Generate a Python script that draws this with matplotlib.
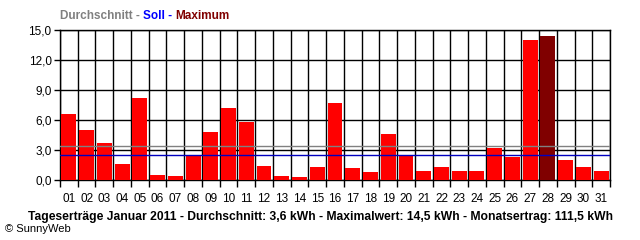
import matplotlib
matplotlib.use('Agg')
import matplotlib.pyplot as plt
import numpy as np

plt.rcParams.update({
    'font.family': ['Liberation Sans', 'DejaVu Sans'],
    'font.size': 8,
    'axes.linewidth': 1.0,
})

days = ['%02d' % d for d in range(1, 32)]
ertrag = [6.6, 5.0, 3.7, 1.65, 8.2, 0.55, 0.45, 2.5, 4.85, 7.2, 5.85, 1.45, 0.45, 0.35,
          1.35, 7.7, 1.25, 0.85, 4.65, 2.55, 0.95, 1.35, 0.95, 0.95, 3.25, 2.35, 14.0,
          14.4, 2.05, 1.35, 0.95]
durchschnitt = 3.45
soll = 2.5
y_ticks = [0, 3, 6, 9, 12, 15]
y_labels = ['0,0', '3,0', '6,0', '9,0', '12,0', '15,0']

fig = plt.figure(figsize=(6.4, 2.4), dpi=100)
ax = fig.add_axes([60 / 640, 60 / 240, 550 / 640, 150 / 240])

imax = int(np.argmax(ertrag))
colors = ['#ff0000'] * len(ertrag)
colors[imax] = '#800000'
x = np.arange(len(ertrag))
ax.bar(x, ertrag, width=0.84, color=colors, zorder=3)

ax.set_xlim(-0.5, len(ertrag) - 0.5)
ax.set_ylim(0, 15)

# grid: vertical at day boundaries, horizontal at y ticks
for b in np.arange(-0.5, len(ertrag), 1):
    ax.axvline(b, color='black', lw=1.0, zorder=1)
for yt in y_ticks:
    ax.axhline(yt, color='black', lw=1.0, zorder=1)

ax.axhline(durchschnitt, color='#808080', lw=1.0, zorder=4)
ax.axhline(soll, color='#0000c0', lw=1.0, zorder=4)

ax.set_yticks(y_ticks)
ax.set_yticklabels(y_labels)
ax.tick_params(axis='y', length=4, width=1, pad=2, labelsize=8.5)

ax.set_xticks(np.arange(-0.5, len(ertrag), 1))
ax.set_xticklabels([])
ax.tick_params(axis='x', which='major', length=5, width=1, direction='out')
ax.set_xticks(x, minor=True)
ax.set_xticklabels(days, minor=True)
ax.tick_params(axis='x', which='minor', length=0, pad=9, labelsize=8.5)

for s in ax.spines.values():
    s.set_color('black')

# legend-like header in three colours
fig.canvas.draw()
r = fig.canvas.get_renderer()
xpos = 60
parts = [('Durchschnitt - ', '#808080'), ('Soll - ', '#0000ff'), ('Maximum', '#800000')]
for txt, col in parts:
    t = fig.text(xpos / 640, 1 - 16 / 240, txt, color=col, fontsize=8.5, fontweight='bold',
                 va='center', ha='left')
    xpos += t.get_window_extent(r).width

foot = fig.text(320 / 640, 1 - 217 / 240,
                'Tageserträge Januar 2011 - Durchschnitt: 3,6 kWh - Maximalwert: 14,5 kWh - Monatsertrag: 111,5 kWh',
                ha='center', va='center', fontsize=8, fontweight='bold')
w = foot.get_window_extent(r).width
foot.set_fontsize(8 * 588 / w)
fig.text(5 / 640, 1 - 229 / 240, '© SunnyWeb', ha='left', va='center', fontsize=8)

fig.savefig('out.png', dpi=100)
